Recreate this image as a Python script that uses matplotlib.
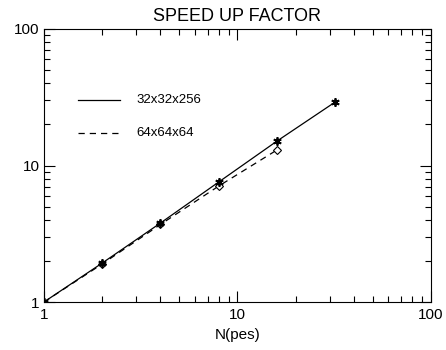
import matplotlib.pyplot as plt
from matplotlib.ticker import FixedLocator, NullFormatter

npes_a = [1, 2, 4, 8, 16, 32]
speed_a = [1.0, 1.93, 3.79, 7.57, 15.1, 29.2]
npes_b = [1, 2, 4, 8, 16]
speed_b = [1.0, 1.9, 3.7, 7.07, 13.0]
label_a = "32x32x256"
label_b = "64x64x64"


def main():
    plt.rcParams["font.family"] = ["Liberation Sans", "DejaVu Sans"]
    fig = plt.figure(figsize=(4.46, 3.5), dpi=100)
    ax = fig.add_axes([44 / 446, 48 / 350, 387 / 446, 273 / 350])

    ax.plot(npes_a, speed_a, color="black", lw=0.9)
    ax.plot(npes_b, speed_b, color="black", lw=0.9, ls=(0, (5, 4)))
    ax.plot(npes_b[1:], speed_b[1:], ls="none", marker="D", ms=4, mfc="white",
            mec="black", mew=0.8)
    ax.plot(npes_a, speed_a, ls="none", marker=(6, 2, 0), ms=6, color="black", mew=1.3)

    ax.set_xscale("log")
    ax.set_yscale("log")
    ax.set_xlim(1, 100)
    ax.set_ylim(1, 100)

    major = [1, 10, 100]
    minor = [m * d for d in [1, 10] for m in range(2, 10)]
    for axis in (ax.xaxis, ax.yaxis):
        axis.set_major_locator(FixedLocator(major))
        axis.set_minor_locator(FixedLocator(minor))
        axis.set_minor_formatter(NullFormatter())
    ax.set_xticklabels(["1", "10", "100"])
    ax.set_yticklabels(["1", "10", "100"])
    ax.tick_params(which="both", direction="in", top=True, right=True,
                   labelsize=11, width=0.8)
    ax.tick_params(which="major", length=8)
    ax.tick_params(axis="x", which="major", pad=4)
    ax.tick_params(axis="y", which="major", pad=3)
    ax.tick_params(which="minor", length=4)
    for s in ax.spines.values():
        s.set_linewidth(0.8)

    ax.set_title("SPEED UP FACTOR", fontsize=13, pad=6)
    ax.set_xlabel("N(pes)", fontsize=11, labelpad=5)

    # legend drawn in axes coords like IDL
    ax.plot([0.088, 0.196], [0.741, 0.741], transform=ax.transAxes, color="black", lw=0.9)
    ax.text(0.238, 0.741, label_a, transform=ax.transAxes, fontsize=9.5, va="center")
    ax.plot([0.088, 0.196], [0.62, 0.62], transform=ax.transAxes, color="black", lw=0.9,
            ls=(0, (5, 4)))
    ax.text(0.238, 0.62, label_b, transform=ax.transAxes, fontsize=9.5, va="center")

    fig.savefig("out.png", dpi=100)


if __name__ == "__main__":
    main()
